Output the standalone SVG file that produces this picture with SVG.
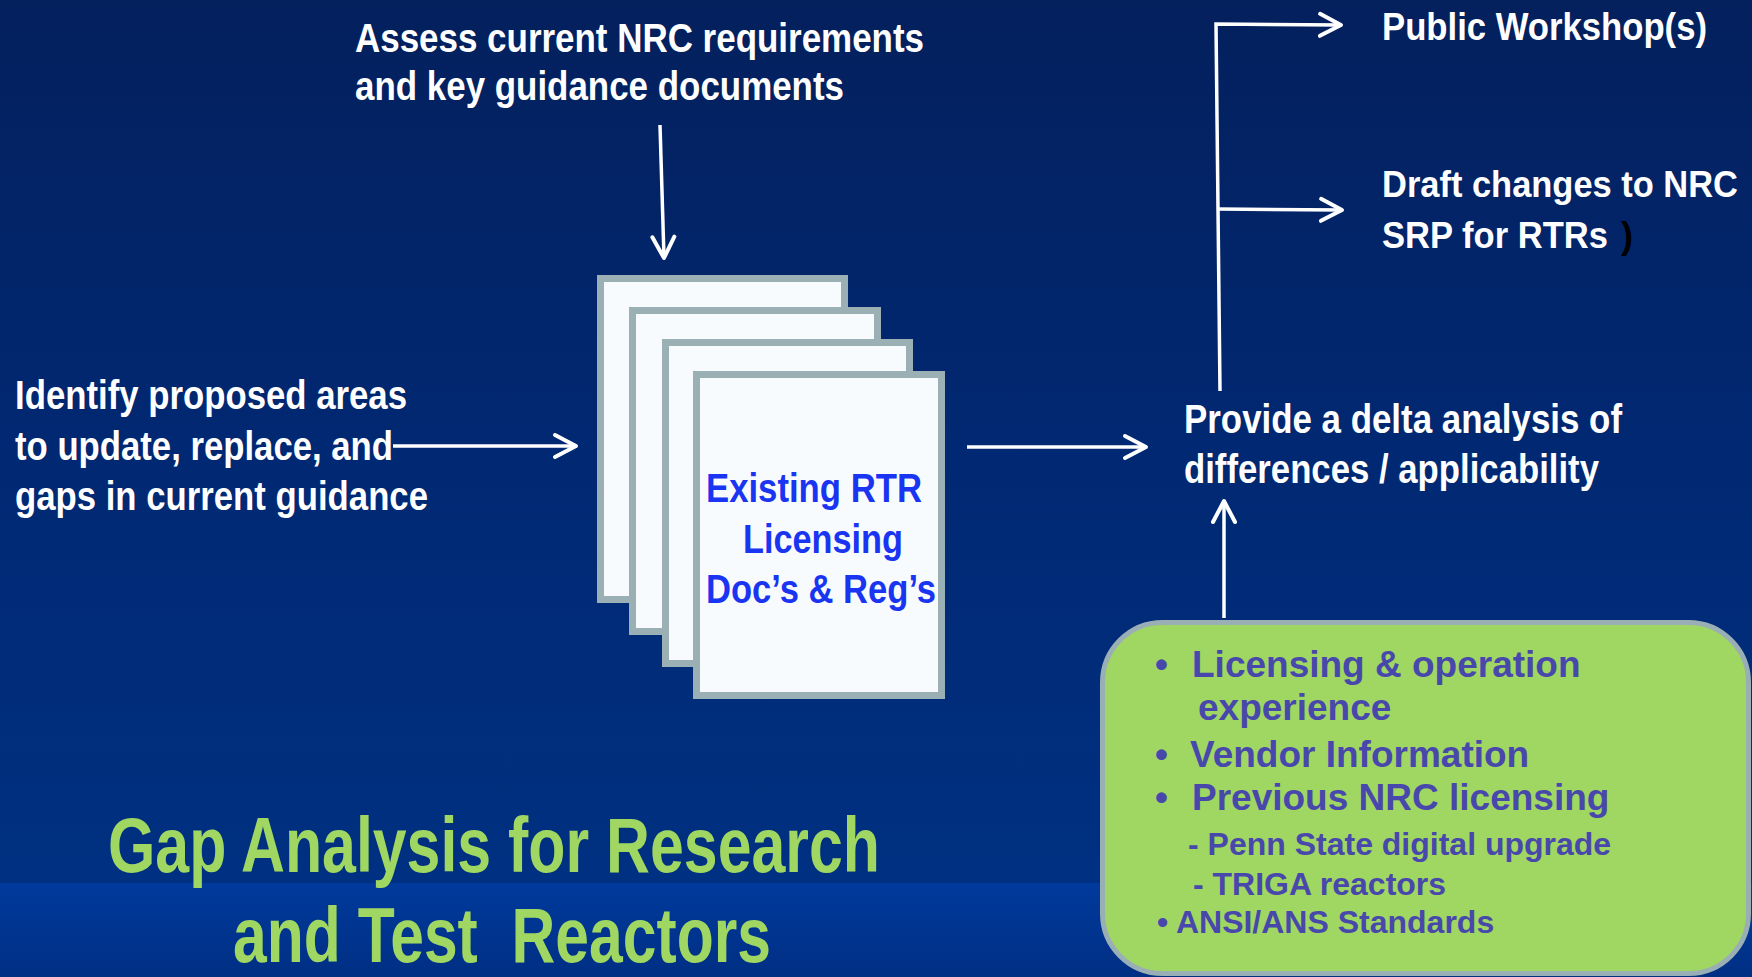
<svg xmlns="http://www.w3.org/2000/svg" width="1752" height="977" viewBox="0 0 1752 977">
<defs>
<linearGradient id="bg" x1="0" y1="0" x2="0" y2="1">
<stop offset="0" stop-color="#04205D"/>
<stop offset="0.45" stop-color="#012872"/>
<stop offset="1" stop-color="#003285"/>
</linearGradient>
<linearGradient id="band" x1="0" y1="0" x2="0" y2="1">
<stop offset="0" stop-color="#003A9C"/>
<stop offset="1" stop-color="#002F84"/>
</linearGradient>
<marker id="arr" markerUnits="userSpaceOnUse" markerWidth="40" markerHeight="40" viewBox="-30 -20 40 40" refX="0" refY="0" orient="auto" overflow="visible">
<path d="M-21,-11 L0,0 L-21,11" fill="none" stroke="#FFFFFF" stroke-width="4" stroke-linecap="round" stroke-linejoin="round"/>
</marker>
<style>
.w{font-family:"Liberation Sans Narrow","Liberation Sans",Arial,sans-serif;font-weight:bold;fill:#FFFFFF;font-size:41px}
.wr{font-family:"Liberation Sans Narrow","Liberation Sans",Arial,sans-serif;font-weight:bold;fill:#FFFFFF;font-size:38px}
.wd{font-family:"Liberation Sans Narrow","Liberation Sans",Arial,sans-serif;font-weight:bold;fill:#FFFFFF;font-size:36px}
.doc{font-family:"Liberation Sans Narrow","Liberation Sans",Arial,sans-serif;font-weight:bold;fill:#1A35F2;font-size:41px}
.title{font-family:"Liberation Sans Narrow","Liberation Sans",Arial,sans-serif;font-weight:bold;fill:#A0D662;font-size:77px}
.g{font-family:"Liberation Sans",Arial,sans-serif;font-weight:bold;fill:#4848AC;font-size:37px}
.gs{font-family:"Liberation Sans",Arial,sans-serif;font-weight:bold;fill:#4848AC;font-size:32px}
.sheet{fill:#F7FBFD;stroke:#9BB0B5;stroke-width:7}
.con{fill:none;stroke:#FFFFFF;stroke-width:3.5;stroke-linejoin:miter}
</style>
</defs>
<rect x="0" y="0" width="1752" height="977" fill="url(#bg)"/>
<rect x="0" y="883" width="1752" height="94" fill="url(#band)"/>

<g id="assess">
<text class="w" x="355" y="52" textLength="569" lengthAdjust="spacingAndGlyphs">Assess current NRC requirements</text>
<text class="w" x="355" y="100" textLength="489" lengthAdjust="spacingAndGlyphs">and key guidance documents</text>
</g>

<g id="identify">
<text class="w" x="15" y="409" textLength="392" lengthAdjust="spacingAndGlyphs">Identify proposed areas</text>
<text class="w" x="15" y="460" textLength="378" lengthAdjust="spacingAndGlyphs">to update, replace, and</text>
<text class="w" x="15" y="510" textLength="413" lengthAdjust="spacingAndGlyphs">gaps in current guidance</text>
</g>

<g id="documents">
<rect class="sheet" x="600.5" y="278.5" width="244" height="321"/>
<rect class="sheet" x="632.5" y="310.5" width="245" height="321"/>
<rect class="sheet" x="665.5" y="342.5" width="244" height="321"/>
<rect class="sheet" x="696.5" y="374.5" width="245" height="321"/>
<text class="doc" x="706" y="502" textLength="216" lengthAdjust="spacingAndGlyphs">Existing RTR</text>
<text class="doc" x="743" y="553" textLength="160" lengthAdjust="spacingAndGlyphs">Licensing</text>
<text class="doc" x="706" y="603" textLength="230" lengthAdjust="spacingAndGlyphs">Doc’s &amp; Reg’s</text>
</g>

<g id="delta">
<text class="w" x="1184" y="433" textLength="438" lengthAdjust="spacingAndGlyphs">Provide a delta analysis of</text>
<text class="w" x="1184" y="483" textLength="415" lengthAdjust="spacingAndGlyphs">differences / applicability</text>
</g>

<g id="workshops">
<text class="wr" x="1382" y="40" textLength="325" lengthAdjust="spacingAndGlyphs">Public Workshop(s)</text>
</g>

<g id="draft">
<text class="wd" x="1382" y="197" textLength="356" lengthAdjust="spacingAndGlyphs">Draft changes to NRC</text>
<text class="wd" x="1382" y="248" textLength="226" lengthAdjust="spacingAndGlyphs">SRP for RTRs</text>
<text class="wd" x="1621" y="248" style="fill:#000000">)</text>
</g>

<g id="inputs">
<rect x="1102.5" y="622.5" width="646" height="351" rx="60" ry="60" fill="#A0D662" stroke="#9AAFB5" stroke-width="5"/>
<text class="g" x="1155" y="677">•</text>
<text class="g" x="1192" y="677">Licensing &amp; operation</text>
<text class="g" x="1198" y="720">experience</text>
<text class="g" x="1155" y="767">•</text>
<text class="g" x="1190" y="767">Vendor Information</text>
<text class="g" x="1155" y="810">•</text>
<text class="g" x="1192" y="810">Previous NRC licensing</text>
<text class="gs" x="1188" y="855">- Penn State digital upgrade</text>
<text class="gs" x="1193" y="895">- TRIGA reactors</text>
<text class="gs" x="1157" y="933">• ANSI/ANS Standards</text>
</g>

<g id="title">
<text class="title" x="108" y="872" textLength="772" lengthAdjust="spacingAndGlyphs">Gap Analysis for Research</text>
<text class="title" x="233" y="962" textLength="538" lengthAdjust="spacingAndGlyphs" xml:space="preserve">and Test  Reactors</text>
</g>

<g id="connectors">
<path class="con" d="M660,125 L664,258" marker-end="url(#arr)"/>
<path class="con" d="M393,446 L576,446" marker-end="url(#arr)"/>
<path class="con" d="M967,447 L1146,447" marker-end="url(#arr)"/>
<path class="con" d="M1224,618 L1224,501" marker-end="url(#arr)"/>
<path class="con" d="M1220,391 L1218,209 L1216,24 L1341,25" marker-end="url(#arr)"/>
<path class="con" d="M1218,209 L1342,210" marker-end="url(#arr)"/>
</g>
</svg>
